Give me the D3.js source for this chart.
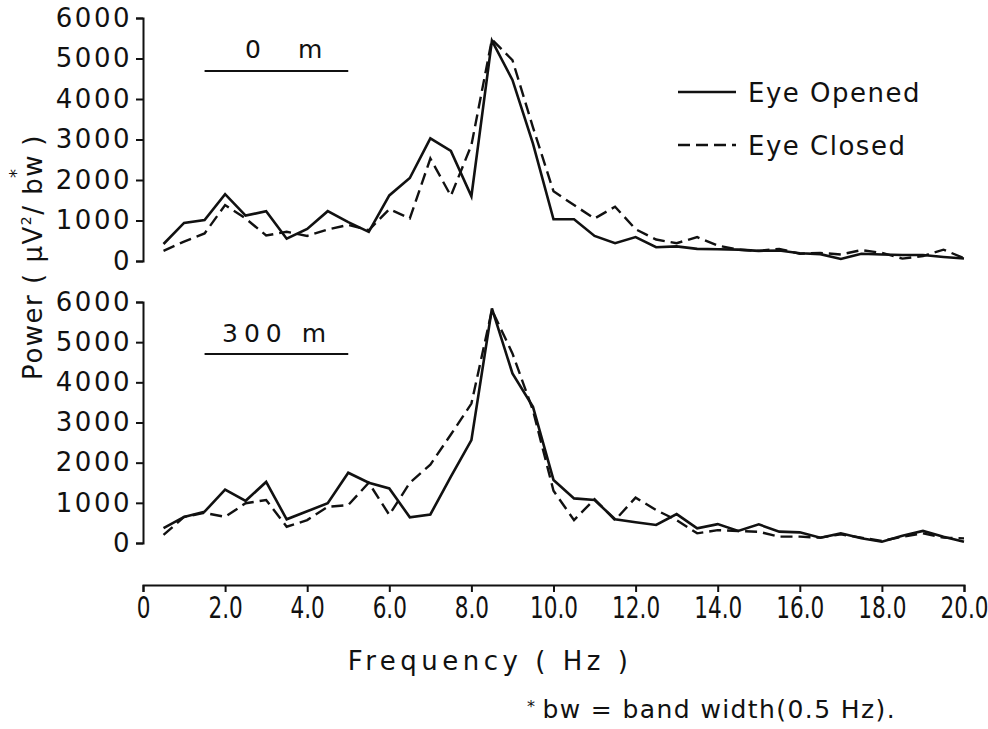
<!DOCTYPE html>
<html>
<head>
<meta charset="utf-8">
<script src="https://cdn.jsdelivr.net/npm/d3@7"></script>
<style>
  body { margin: 0; background: #fff; }
  svg { display: block; }
  text { font-family: "DejaVu Sans", sans-serif; fill: #111; }
</style>
</head>
<body>
<svg id="chart" width="988" height="729"></svg>
<script>
// frequency bins (Hz), 0.5 Hz band width
var freqs = [0.5, 1.0, 1.5, 2.0, 2.5, 3.0, 3.5, 4.0, 4.5, 5.0,
             5.5, 6.0, 6.5, 7.0, 7.5, 8.0, 8.5, 9.0, 9.5, 10.0,
             10.5, 11.0, 11.5, 12.0, 12.5, 13.0, 13.5, 14.0, 14.5, 15.0,
             15.5, 16.0, 16.5, 17.0, 17.5, 18.0, 18.5, 19.0, 19.5, 20.0];

// 0 m
var open0 = [420, 940, 1010, 1650, 1120, 1230, 550, 790, 1230, 960,
             720, 1620, 2050, 3030, 2720, 1600, 5440, 4470, 2900, 1030,
             1030, 620, 440, 590, 340, 360, 300, 290, 280, 250,
             260, 190, 170, 50, 180, 160, 150, 150, 100, 60];
var closed0 = [250, 480, 680, 1380, 1050, 630, 720, 620, 780, 890,
               760, 1280, 1050, 2530, 1610, 2860, 5470, 4960, 3300, 1720,
               1380, 1050, 1340, 785, 530, 440, 590, 380, 280, 250,
               300, 180, 200, 160, 270, 200, 60, 120, 280, 70];

// 300 m
var open300 = [370, 650, 780, 1330, 1050, 1520, 590, 790, 990, 1750,
               1500, 1360, 640, 710, 1650, 2560, 5840, 4220, 3390, 1570,
               1110, 1070, 590, 515, 450, 720, 365, 470, 300, 464,
               282, 265, 133, 240, 116, 33, 182, 300, 158, 33];
var closed300 = [200, 650, 750, 650, 990, 1070, 405, 570, 900, 945,
                 1500, 700, 1500, 1950, 2700, 3470, 5800, 4720, 3300, 1300,
                 570, 1090, 570, 1130, 820, 570, 240, 320, 300, 280,
                 158, 158, 133, 215, 133, 50, 158, 240, 133, 116];

var yTicks = [0, 1000, 2000, 3000, 4000, 5000, 6000];
var xTicks = [0, 2, 4, 6, 8, 10, 12, 14, 16, 18, 20];

var svg = d3.select("#chart");

var x = d3.scaleLinear().domain([0, 20]).range([143, 964]);

var panels = [
  {open: open0, closed: closed0, y: d3.scaleLinear().domain([0, 6000]).range([261, 18]),
   labelY: 58, barY: 71},
  {open: open300, closed: closed300, y: d3.scaleLinear().domain([0, 6000]).range([543, 302]),
   labelY: 342, barY: 354}
];

panels.forEach(function(p, k){
  var g = svg.append("g");

  var yAxis = g.append("g")
    .attr("transform", "translate(" + x(0) + ",0)")
    .call(d3.axisLeft(p.y).tickValues(yTicks).tickFormat(d3.format("d"))
      .tickSize(7).tickPadding(4));
  yAxis.selectAll("path, line").attr("stroke", "#111").attr("stroke-width", 2);
  yAxis.selectAll("text")
    .attr("font-size", 26)
    .attr("letter-spacing", 2.5)
    .attr("font-family", "DejaVu Sans")
    .attr("fill", "#111");

  var line = d3.line()
    .x(function(d, i){ return x(freqs[i]); })
    .y(function(d){ return p.y(d); });

  g.append("path")
    .datum(p.closed)
    .attr("d", line)
    .attr("fill", "none")
    .attr("stroke", "#111")
    .attr("stroke-width", 2.4)
    .attr("stroke-dasharray", "12,6");

  g.append("path")
    .datum(p.open)
    .attr("d", line)
    .attr("fill", "none")
    .attr("stroke", "#111")
    .attr("stroke-width", 2.6)
    .attr("stroke-linejoin", "miter");

  // altitude label with bar
  g.append("line")
    .attr("x1", x(1.5)).attr("x2", x(5.0))
    .attr("y1", p.barY).attr("y2", p.barY)
    .attr("stroke", "#111").attr("stroke-width", 2);

  var t = g.append("text")
    .attr("y", p.labelY)
    .attr("font-size", 25);
  if (k == 0) {
    t.append("tspan").attr("x", 245).text("0");
    t.append("tspan").attr("x", 298).text("m");
  } else {
    t.attr("x", 222).attr("letter-spacing", 6).text("300 m");
  }
});

// frequency axis
var xAxis = svg.append("g")
  .attr("transform", "translate(0,585)")
  .call(d3.axisBottom(x).tickValues(xTicks)
    .tickFormat(function(d){ return d == 0 ? "0" : d3.format(".1f")(d); })
    .tickSize(7).tickPadding(5));
xAxis.selectAll("path, line").attr("stroke", "#111").attr("stroke-width", 2);
// condensed look of the drafting digits
xAxis.selectAll("text")
  .attr("font-size", 30)
  .attr("font-family", "DejaVu Sans")
  .attr("transform", "scale(0.72,1)")
  .attr("fill", "#111");

// legend
var legend = [
  {name: "Eye Opened", dash: null, y: 92},
  {name: "Eye Closed", dash: "12,6", y: 145}
];
var lg = svg.append("g");
legend.forEach(function(l){
  lg.append("line")
    .attr("x1", 678).attr("x2", 736)
    .attr("y1", l.y).attr("y2", l.y)
    .attr("stroke", "#111").attr("stroke-width", 2.4)
    .attr("stroke-dasharray", l.dash);
  lg.append("text")
    .attr("x", 748).attr("y", l.y + 10)
    .attr("font-size", 26)
    .attr("letter-spacing", 1.5)
    .text(l.name);
});

// y label
var yl = svg.append("text")
  .attr("transform", "translate(42,257) rotate(-90)")
  .attr("text-anchor", "middle")
  .attr("font-size", 26)
  .attr("letter-spacing", 1.5);
yl.append("tspan").text("Power ( μV");
yl.append("tspan").attr("font-size", 14).attr("dy", -11).text("2");
yl.append("tspan").attr("dy", 11).text("/ bw");
yl.append("tspan").attr("font-size", 18).attr("dx", -24).attr("dy", -20).text("*");
yl.append("tspan").attr("dy", 20).attr("dx", 12).text(" )");

// x label
svg.append("text")
  .attr("x", 490).attr("y", 670)
  .attr("text-anchor", "middle")
  .attr("font-size", 26)
  .attr("letter-spacing", 4.5)
  .text("Frequency ( Hz )");

// footnote
var fn = svg.append("text")
  .attr("x", 527).attr("y", 718)
  .attr("font-size", 25)
  .attr("letter-spacing", 1.4);
fn.append("tspan").attr("font-size", 16).attr("dy", -6).text("*");
fn.append("tspan").attr("dy", 6).attr("dx", 6).text("bw = band width(0.5 Hz).");
</script>
</body>
</html>
